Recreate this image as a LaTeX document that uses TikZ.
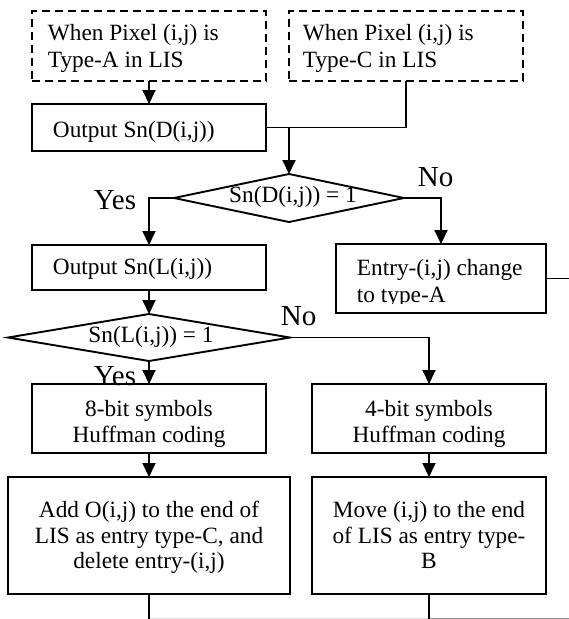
\documentclass[tikz,border=0pt]{standalone}
\usepackage{fontspec}
\setmainfont{Liberation Serif}
\usetikzlibrary{shapes.geometric,arrows.meta}
\begin{document}
\begin{tikzpicture}[x=1pt,y=-1pt,
  line width=1.9pt,
  box/.style={draw, rectangle, inner sep=0, outer sep=0},
  dbox/.style={box, dash pattern=on 8pt off 5pt},
  dia/.style={draw, diamond, inner sep=0, outer sep=0},
  txt/.style={inner sep=0, font=\fontsize{23.3}{27}\selectfont},
  lbl/.style={inner sep=0, font=\fontsize{29}{32}\selectfont},
  arr/.style={-{Triangle[length=14pt,width=13pt]}}]
\useasboundingbox (0,0) rectangle (569,619);
% boxes
\node[dbox, minimum width=234pt, minimum height=70pt] (bA) at (149,46) {};
\node[dbox, minimum width=234pt, minimum height=70pt] (bC) at (406,46) {};
\node[box, minimum width=234pt, minimum height=47pt] (bD) at (149,127.5) {};
\node[dia, minimum width=230pt, minimum height=48pt] (d1) at (289,198) {};
\node[box, minimum width=234pt, minimum height=45pt] (bL) at (149,267.5) {};
\node[box, minimum width=210pt, minimum height=69pt] (bE) at (441,278.5) {};
\node[dia, minimum width=282pt, minimum height=47pt] (d2) at (149,337.5) {};
\node[box, minimum width=234pt, minimum height=69pt] (b8) at (149,418.5) {};
\node[box, minimum width=234pt, minimum height=69pt] (b4) at (429,418.5) {};
\node[box, minimum width=282pt, minimum height=117pt] (bAdd) at (149,535.5) {};
\node[box, minimum width=234pt, minimum height=117pt] (bMove) at (429,535.5) {};
% texts
\node[txt, anchor=base west] (tA1) at (47,40) {When Pixel (i,j) is};
\node[txt, anchor=base west] (tA2) at (47,67) {Type-A in LIS};
\node[txt, anchor=base west] (tC1) at (302,40) {When Pixel (i,j) is};
\node[txt, anchor=base west] (tC2) at (302,67) {Type-C in LIS};
\node[txt, anchor=base west] (tD) at (52,137) {Output Sn(D(i,j))};
\node[txt, anchor=base west] (tL) at (52,274) {Output Sn(L(i,j))};
\begin{scope}
  \clip (336,244) rectangle (546,303);
  \node[txt, anchor=base west] (tE1) at (356,275) {Entry-(i,j) change};
  \node[txt, anchor=base west] (tE2) at (356,302) {to type-A};
\end{scope}
\begin{scope}
  \clip (d1.north) -- (d1.east) -- (d1.south) -- (d1.west) -- cycle;
  \node[txt, anchor=base] (td1) at (293,202) {Sn(D(i,j)) = 1};
\end{scope}
\begin{scope}
  \clip (d2.north) -- (d2.east) -- (d2.south) -- (d2.west) -- cycle;
  \node[txt, anchor=base] (td2) at (151,342) {Sn(L(i,j)) = 1};
\end{scope}
\node[txt, anchor=base] (t81) at (149,416) {8-bit symbols};
\node[txt, anchor=base] (t82) at (149,442) {Huffman coding};
\node[txt, anchor=base] (t41) at (429,416) {4-bit symbols};
\node[txt, anchor=base] (t42) at (429,442) {Huffman coding};
\node[txt, anchor=base] (tAdd1) at (149,517) {Add O(i,j) to the end of};
\node[txt, anchor=base] (tAdd2) at (149,543) {LIS as entry type-C, and};
\node[txt, anchor=base] (tAdd3) at (149,568) {delete entry-(i,j)};
\node[txt, anchor=base] (tM1) at (429,517) {Move (i,j) to the end};
\node[txt, anchor=base] (tM2) at (429,543) {of LIS as entry type-};
\node[txt, anchor=base] (tM3) at (429,568) {B};
% labels
\node[lbl, anchor=base west] (yes1) at (93,209) {Yes};
\node[lbl, anchor=base west] (no1) at (417,186) {No};
\node[lbl, anchor=base west] (no2) at (280,325) {No};
\node[lbl, anchor=base west] (yes2) at (93,385) {Yes};
% connectors
\coordinate (j1) at (289,127.5);
\coordinate (eE) at (569,278.5);
\coordinate (e1) at (149,619);
\coordinate (e2) at (429,619);
\coordinate (g1) at (149,618);
\coordinate (g2) at (429,618);
\coordinate (g3) at (569,618);
\draw[arr] (bA.south) -- (bD.north);
\draw (bC.south) |- (bD.east);
\draw[arr] (j1) -- (d1.north);
\draw[arr] (d1.west) -| (bL.north);
\draw[arr] (d1.east) -| (bE.north);
\draw (bE.east) -- (eE);
\draw[arr] (bL.south) -- (d2.north);
\draw[arr] (d2.south) -- (b8.north);
\draw[arr] (d2.east) -| (b4.north);
\draw[arr] (b8.south) -- (bAdd.north);
\draw[arr] (b4.south) -- (bMove.north);
\draw[line width=1pt, black!12] (g1) -- (g2);
\draw[line width=1pt, black!45] (g2) -- (g3);
\draw (bAdd.south) -- (e1);
\draw (bMove.south) -- (e2);
\end{tikzpicture}
\end{document}
